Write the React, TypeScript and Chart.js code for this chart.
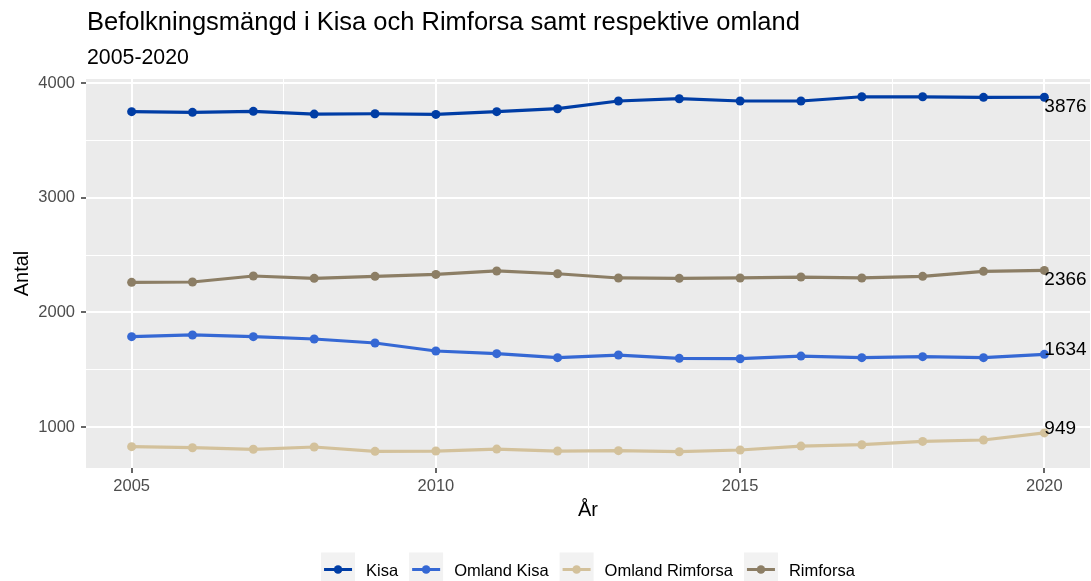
import React, { useEffect, useRef } from 'react';
import { Chart, registerables } from 'chart.js';

Chart.register(...registerables);

// ---------- data ----------
const years = [2005, 2006, 2007, 2008, 2009, 2010, 2011, 2012, 2013, 2014, 2015, 2016, 2017, 2018, 2019, 2020];
const seriesNames = ['Kisa', 'Omland Kisa', 'Omland Rimforsa', 'Rimforsa'];
const kisa = [3750, 3744, 3753, 3729, 3732, 3726, 3750, 3776, 3843, 3863, 3843, 3843, 3880, 3880, 3875, 3876];
const omlandKisa = [1788, 1803, 1788, 1768, 1733, 1663, 1640, 1605, 1628, 1599, 1596, 1619, 1605, 1614, 1605, 1634];
const omlandRimforsa = [829, 820, 806, 826, 788, 791, 808, 791, 794, 785, 800, 834, 846, 875, 887, 949];
const rimforsa = [2262, 2265, 2317, 2297, 2314, 2331, 2361, 2337, 2300, 2297, 2300, 2308, 2300, 2314, 2358, 2366];
const seriesValues = [kisa, omlandKisa, omlandRimforsa, rimforsa];

const yTicks = [1000, 1500, 2000, 2500, 3000, 3500, 4000];
const xTicks = [2005, 2007.5, 2010, 2012.5, 2015, 2017.5, 2020];

const titleText = 'Befolkningsmängd i Kisa och Rimforsa samt respektive omland';
const subtitleText = '2005-2020';
const xTitle = 'År';
const yTitle = 'Antal';

// ---------- style ----------
const seriesColors = ['#003DA5', '#3568D4', '#D3C19B', '#8C7E65'];
const labelPlacement = ['below', 'above', 'above', 'below'];
const FONT = '"Liberation Sans", Arial, sans-serif';

const isMajorY = (v: number) => v % 1000 === 0;
const isMajorX = (v: number) => v % 5 === 0;

const decorPlugin = {
  id: 'decor',
  beforeDraw(chart: any) {
    const { ctx, chartArea: a } = chart;
    ctx.save();
    ctx.fillStyle = '#EBEBEB';
    ctx.fillRect(a.left, a.top, a.right - a.left, a.bottom - a.top);
    ctx.restore();
  },
  afterDraw(chart: any) {
    const { ctx, chartArea: a } = chart;
    ctx.save();
    // title + subtitle
    ctx.fillStyle = '#000000';
    ctx.textAlign = 'left';
    ctx.textBaseline = 'alphabetic';
    ctx.font = `25.5px ${FONT}`;
    ctx.fillText(titleText, a.left + 1, 30);
    ctx.font = `21.3px ${FONT}`;
    ctx.fillText(subtitleText, a.left + 1, 64);

    // end labels
    ctx.font = `19px ${FONT}`;
    seriesValues.forEach((vals, i) => {
      const meta = chart.getDatasetMeta(i);
      const pt = meta.data[vals.length - 1];
      if (!pt) return;
      const label = String(vals[vals.length - 1]);
      const y = labelPlacement[i] === 'below' ? pt.y + 14.8 : pt.y + 1;
      ctx.fillText(label, pt.x, y);
    });

    // legend
    ctx.font = `16.5px ${FONT}`;
    const key = 34;
    const gap = 11;
    const widths = seriesNames.map((n) => ctx.measureText(n).width);
    const total = widths.reduce((s, w) => s + key + gap + w, 0) + gap * (seriesNames.length - 1);
    let x = (a.left + a.right) / 2 - total / 2;
    const cy = 569.5;
    seriesNames.forEach((name, i) => {
      ctx.fillStyle = '#F2F2F2';
      ctx.fillRect(x, cy - key / 2, key, key);
      ctx.strokeStyle = seriesColors[i];
      ctx.lineWidth = 3;
      ctx.beginPath();
      ctx.moveTo(x + 3, cy);
      ctx.lineTo(x + key - 3, cy);
      ctx.stroke();
      ctx.fillStyle = seriesColors[i];
      ctx.beginPath();
      ctx.arc(x + key / 2, cy, 4.3, 0, Math.PI * 2);
      ctx.fill();
      ctx.fillStyle = '#000000';
      ctx.fillText(name, x + key + gap, cy + 6);
      x += key + gap + widths[i] + gap;
    });
    ctx.restore();
  },
};

export default function App() {
  const canvasRef = useRef<HTMLCanvasElement | null>(null);

  useEffect(() => {
    const canvas = canvasRef.current;
    if (!canvas) return;
    const datasets = seriesNames.map((name, i) => ({
      label: name,
      data: years.map((yr, j) => ({ x: yr, y: seriesValues[i][j] })),
      borderColor: seriesColors[i],
      backgroundColor: seriesColors[i],
      borderWidth: 3.2,
      pointRadius: 4.5,
      pointHoverRadius: 4.5,
      pointBorderWidth: 0,
      tension: 0,
      fill: false,
    }));

    const chart = new Chart(canvas, {
      type: 'line',
      data: { datasets },
      plugins: [decorPlugin],
      options: {
        animation: false,
        responsive: false,
        devicePixelRatio: 1,
        layout: { autoPadding: false, padding: { top: 79, right: 1, bottom: 0, left: 0 } },
        plugins: {
          legend: { display: false },
          title: { display: false },
          tooltip: { enabled: false },
        },
        scales: {
          x: {
            type: 'linear',
            min: 2004.25,
            max: 2020.75,
            afterBuildTicks: (scale: any) => {
              scale.ticks = xTicks.map((v) => ({ value: v }));
            },
            afterFit: (scale: any) => {
              scale.height = 113;
              scale.paddingLeft = 0;
              scale.paddingRight = 0;
            },
            ticks: {
              autoSkip: false,
              maxRotation: 0,
              padding: 4,
              color: '#4D4D4D',
              font: { family: FONT, size: 16.5 },
              callback: (v: any) => (isMajorX(Number(v)) ? String(v) : ''),
            },
            grid: {
              color: '#FFFFFF',
              lineWidth: (c: any) => (c.tick && isMajorX(c.tick.value) ? 2 : 1),
              tickColor: (c: any) => (c.tick && isMajorX(c.tick.value) ? '#333333' : 'rgba(0,0,0,0)'),
              tickLength: 5,
              tickWidth: 1.5,
              drawTicks: true,
            },
            border: { display: false },
            title: {
              display: true,
              text: xTitle,
              color: '#000000',
              font: { family: FONT, size: 20, lineHeight: 1.2 },
              padding: { top: 0, bottom: 59 },
            },
          },
          y: {
            type: 'linear',
            min: 643,
            max: 4035,
            afterBuildTicks: (scale: any) => {
              scale.ticks = yTicks.map((v) => ({ value: v }));
            },
            afterFit: (scale: any) => {
              scale.width = 86;
              scale.paddingTop = 0;
              scale.paddingBottom = 0;
            },
            ticks: {
              autoSkip: false,
              padding: 6,
              color: '#4D4D4D',
              font: { family: FONT, size: 16.5 },
              callback: (v: any) => (isMajorY(Number(v)) ? String(v) : ''),
            },
            grid: {
              color: '#FFFFFF',
              lineWidth: (c: any) => (c.tick && isMajorY(c.tick.value) ? 2 : 1),
              tickColor: (c: any) => (c.tick && isMajorY(c.tick.value) ? '#333333' : 'rgba(0,0,0,0)'),
              tickLength: 5,
              tickWidth: 1.5,
              drawTicks: true,
            },
            border: { display: false },
            title: {
              display: true,
              text: yTitle,
              color: '#000000',
              font: { family: FONT, size: 20, lineHeight: 1.2 },
              padding: { top: 10, bottom: 0 },
            },
          },
        },
      },
    } as any);

    return () => {
      chart.destroy();
    };
  }, []);

  return (
    <div style={{ position: 'absolute', left: 0, top: 0, width: 1091, height: 581, background: '#FFFFFF' }}>
      <canvas ref={canvasRef} width={1091} height={581} />
    </div>
  );
}
